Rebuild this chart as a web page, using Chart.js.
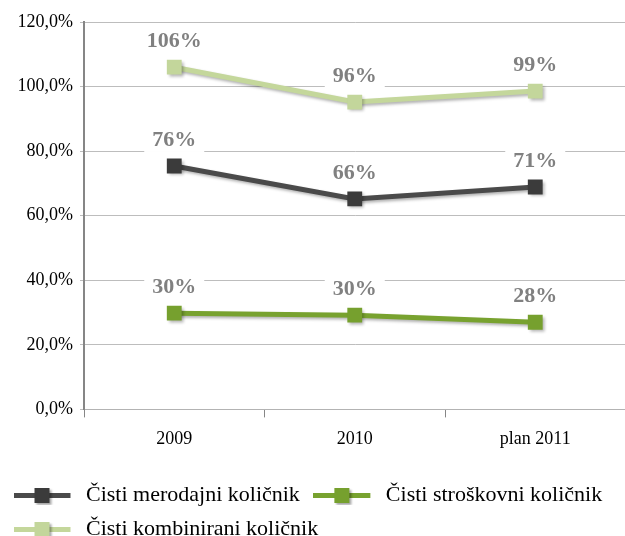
<!DOCTYPE html>
<html>
<head>
<meta charset="utf-8">
<script src="https://cdn.jsdelivr.net/npm/chart.js@4.4.1/dist/chart.umd.min.js"></script>
<style>
    html, body { margin: 0; padding: 0; background: #fff; }
    /* platno je malo večje, ker Chart.js pusti rob za točke; odvečni rob skrijemo */
    .okvir { width: 625px; height: 536px; overflow: hidden; }
</style>
</head>
<body>
<div class="okvir">
    <canvas id="grafikon-kolicniki" width="636" height="550"></canvas>
</div>
<script>
// Podatki, odčitani s slike
const godine = ["2009", "2010", "plan 2011"];
const merodajni = [75.4, 65.2, 68.9];
const stroskovni = [29.8, 29.2, 27.0];
const kombinirani = [106.0, 95.2, 98.6];
const oznakeMerodajni = ["76%", "66%", "71%"];
const oznakeStroskovni = ["30%", "30%", "28%"];
const oznakeKombinirani = ["106%", "96%", "99%"];
const yOznake = [0, 20, 40, 60, 80, 100, 120];

const PISAVA = "'Liberation Serif', 'Times New Roman', serif";

const barve = {
    merodajni: { linija: "#4a4a4a", tocka: "#3b3b3b" },
    stroskovni: { linija: "#78a22f", tocka: "#76a02e" },
    kombinirani: { linija: "#c4d79b", tocka: "#c3d69b" }
};

// Ikona za legendo: črta s kvadratkom na sredini
function narediIkono(barvaLinije, barvaTocke) {
    const c = document.createElement("canvas");
    c.width = 60;
    c.height = 20;
    const g = c.getContext("2d");
    g.fillStyle = barvaLinije;
    g.fillRect(0, 8, 57, 5);
    g.save();
    g.shadowColor = "rgba(0,0,0,0.35)";
    g.shadowOffsetX = 2;
    g.shadowOffsetY = 2;
    g.shadowBlur = 2;
    g.fillStyle = barvaTocke;
    g.fillRect(21, 3, 15, 15);
    g.restore();
    return c;
}

const ikone = [
    narediIkono(barve.merodajni.linija, barve.merodajni.tocka),
    narediIkono(barve.stroskovni.linija, barve.stroskovni.tocka),
    narediIkono(barve.kombinirani.linija, barve.kombinirani.tocka)
];

// Senca pod črtami in točkami
const sencaPlugin = {
    id: "senca",
    beforeDatasetDraw(chart) {
        const ctx = chart.ctx;
        ctx.save();
        ctx.shadowColor = "rgba(0,0,0,0.3)";
        ctx.shadowOffsetX = 2;
        ctx.shadowOffsetY = 2;
        ctx.shadowBlur = 3;
    },
    afterDatasetDraw(chart) {
        chart.ctx.restore();
    }
};

// Oznake vrednosti nad točkami, z belim ozadjem
const oznakePlugin = {
    id: "oznakeVrednosti",
    afterDatasetsDraw(chart) {
        const ctx = chart.ctx;
        ctx.save();
        ctx.font = "bold 22px " + PISAVA;
        ctx.textAlign = "center";
        ctx.textBaseline = "middle";
        chart.data.datasets.forEach((ds, i) => {
            const meta = chart.getDatasetMeta(i);
            meta.data.forEach((tocka, j) => {
                const besedilo = ds.oznake[j];
                const x = tocka.x;
                const y = tocka.y - 27;
                const w = ctx.measureText(besedilo).width + 16;
                ctx.fillStyle = "#fff";
                ctx.fillRect(x - w / 2, y - 13, w, 26);
                ctx.fillStyle = "#808080";
                ctx.fillText(besedilo, x, y + 1);
            });
        });
        ctx.restore();
    }
};

function naboroTocke(barva) {
    return {
        pointStyle: "rect",
        pointRadius: 10.5,
        pointHoverRadius: 10.5,
        pointBackgroundColor: barva,
        pointBorderWidth: 0,
        borderWidth: 5,
        tension: 0
    };
}

const ctx = document.getElementById("grafikon-kolicniki").getContext("2d");
new Chart(ctx, {
    type: "line",
    data: {
        labels: godine,
        datasets: [
            Object.assign({
                label: "Čisti merodajni količnik",
                data: merodajni,
                oznake: oznakeMerodajni,
                borderColor: barve.merodajni.linija,
                backgroundColor: barve.merodajni.tocka
            }, naboroTocke(barve.merodajni.tocka)),
            Object.assign({
                label: "Čisti stroškovni količnik",
                data: stroskovni,
                oznake: oznakeStroskovni,
                borderColor: barve.stroskovni.linija,
                backgroundColor: barve.stroskovni.tocka
            }, naboroTocke(barve.stroskovni.tocka)),
            Object.assign({
                label: "Čisti kombinirani količnik",
                data: kombinirani,
                oznake: oznakeKombinirani,
                borderColor: barve.kombinirani.linija,
                backgroundColor: barve.kombinirani.tocka
            }, naboroTocke(barve.kombinirani.tocka))
        ]
    },
    options: {
        responsive: false,
        animation: false,
        devicePixelRatio: 1,
        layout: {
            padding: { top: 22, left: 0, right: 0, bottom: 0 }
        },
        scales: {
            x: {
                offset: true,
                afterFit(axis) {
                    axis.height += 11; // razmik do legende
                },
                grid: {
                    offset: true,
                    drawOnChartArea: false,
                    drawTicks: true,
                    tickLength: 8,
                    color: "#868686"
                },
                border: { color: "#b3b3b3", width: 1 },
                ticks: {
                    color: "#000",
                    padding: 11,
                    font: { family: PISAVA, size: 18 }
                }
            },
            y: {
                min: 0,
                max: 120,
                afterBuildTicks(axis) {
                    axis.ticks = yOznake.map(v => ({ value: v }));
                },
                afterFit(axis) {
                    axis.width = 84;
                },
                grid: {
                    color: "#bdbdbd",
                    lineWidth: 1,
                    tickLength: 4
                },
                border: { color: "#868686", width: 2 },
                ticks: {
                    color: "#000",
                    padding: 7,
                    font: { family: PISAVA, size: 18 },
                    callback: v => v.toFixed(1).replace(".", ",") + "%"
                }
            }
        },
        plugins: {
            tooltip: { enabled: false },
            legend: {
                position: "bottom",
                align: "start",
                labels: {
                    usePointStyle: true,
                    pointStyleWidth: 63,
                    padding: 12,
                    color: "#000",
                    font: { family: PISAVA, size: 22, lineHeight: 1 },
                    generateLabels(chart) {
                        const osnova = Chart.defaults.plugins.legend.labels.generateLabels(chart);
                        return osnova.map(l => Object.assign(l, { pointStyle: ikone[l.datasetIndex] }));
                    }
                }
            }
        }
    },
    plugins: [sencaPlugin, oznakePlugin]
});
</script>
</body>
</html>
